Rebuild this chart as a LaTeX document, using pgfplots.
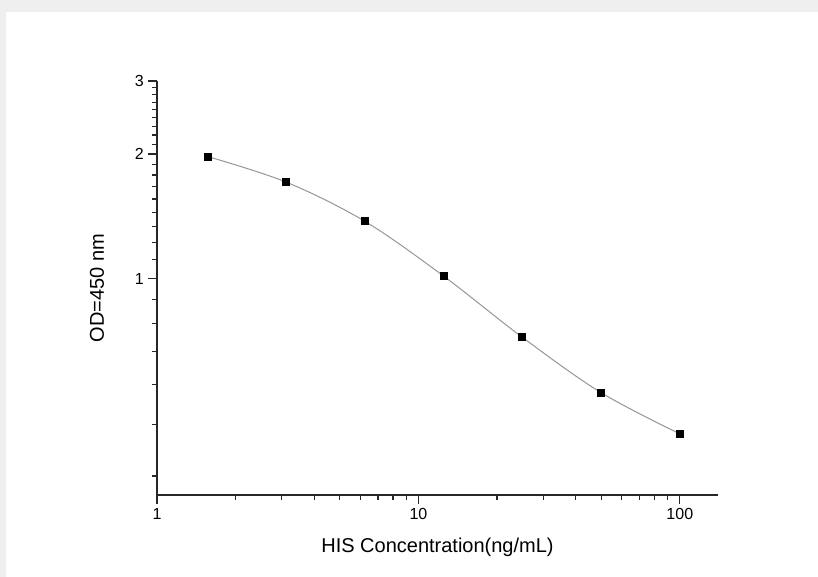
\documentclass[border=0pt]{standalone}
\usepackage{fontspec}
\setmainfont{Liberation Sans}
\usepackage{pgfplots}
\pgfplotsset{compat=1.18}
\definecolor{bggray}{HTML}{EFEFEF}
\definecolor{curvegray}{RGB}{150,150,150}

\begin{document}
\begin{tikzpicture}
% page frame: grey strip top and left, white panel
\useasboundingbox (0,0) rectangle (613.5pt,432.75pt);
\fill[bggray] (0,0) rectangle (613.5pt,432.75pt);
\fill[white] (4.5pt,0) rectangle (613.5pt,423.75pt);
\begin{axis}[
  at={(117.75pt,61.5pt)}, anchor=south west,
  scale only axis, width=420.75pt, height=310.5pt,
  xmode=log, ymode=log,
  xmin=1, xmax=140, ymin=0.3, ymax=3,
  axis x line*=bottom, axis y line*=left,
  axis line style={line width=1.1pt, black!85},
  xtick={1,10,100}, xticklabels={1,10,100},
  minor xtick={2,3,4,5,6,7,8,9,20,30,40,50,60,70,80,90},
  ytick={1,2,3}, yticklabels={1,2,3},
  minor ytick={0.3333,0.4444,0.5556,0.6667,0.7778,0.8889,
    1.1111,1.2222,1.3333,1.4444,1.5556,1.6667,1.7778,1.8889,
    2.1111,2.2222,2.3333,2.4444,2.5556,2.6667,2.7778,2.8889},
  tick align=outside,
  major tick length=6.5pt, minor tick length=3.75pt,
  tick style={line width=0.9pt, black!85},
  ticklabel style={font=\fontsize{12}{14}\selectfont},
  label style={font=\fontsize{15}{18}\selectfont},
  xlabel={HIS Concentration(ng/mL)},
  ylabel={OD=450 nm},
  xlabel style={at={(axis description cs:0.5,0)}, anchor=center, yshift=-39pt},
  ylabel style={at={(axis description cs:-0.107,0.5)}, anchor=center},
  clip=false,
]
\addplot[curvegray, line width=0.75pt, smooth, tension=0.55,
  mark=square*, mark size=2.6pt, mark options={draw=black, fill=black}]
  coordinates {
    (1.5625,1.971)
    (3.125,1.709)
    (6.25,1.374)
    (12.5,1.013)
    (25,0.721)
    (50,0.530)
    (100,0.4215)
  };
\end{axis}
\end{tikzpicture}
\end{document}
